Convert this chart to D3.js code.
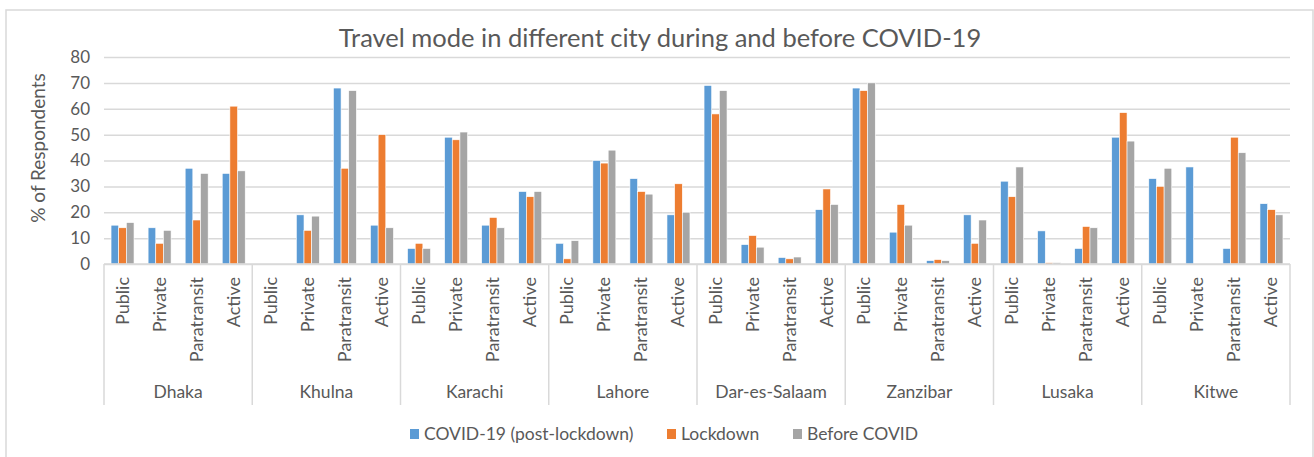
<!DOCTYPE html>
<html>
<head>
<meta charset="utf-8">
<script src="https://cdn.jsdelivr.net/npm/d3@7"></script>
<style>
  body { margin: 0; background: #fff; }
  text { font-family: Lato, "Noto Sans", sans-serif; fill: #595959; }
</style>
</head>
<body>
<div class="chart"></div>
<script>
const cities = ['Dhaka', 'Khulna', 'Karachi', 'Lahore', 'Dar-es-Salaam', 'Zanzibar', 'Lusaka', 'Kitwe'];
const modes = ['Public', 'Private', 'Paratransit', 'Active'];
const series = ['COVID-19 (post-lockdown)', 'Lockdown', 'Before COVID'];
const yTicks = [0, 10, 20, 30, 40, 50, 60, 70, 80];

// values per city, in mode order Public, Private, Paratransit, Active
const covid = [
  [15, 14, 37, 35], [0, 19, 68, 15], [6, 49, 15, 28], [8, 40, 33, 19],
  [69, 7.5, 2.5, 21], [68, 12.3, 1.3, 19], [32, 12.8, 6, 49], [33, 37.5, 6, 23.3]
];
const lockdown = [
  [14, 8, 17, 61], [0, 13, 37, 50], [8, 48, 18, 26], [2, 39, 28, 31],
  [58, 11, 2, 29], [67, 23, 1.7, 8], [26, 0.5, 14.5, 58.5], [30, 0, 49, 21]
];
const before = [
  [16, 13, 35, 36], [0, 18.5, 67, 14], [6, 51, 14, 28], [9, 44, 27, 20],
  [67, 6.5, 2.7, 23], [70, 15, 1.3, 17], [37.5, 0.5, 14, 47.5], [37, 0, 43, 19]
];
const seriesValues = [covid, lockdown, before];
const colors = ['#5B9BD5', '#ED7D31', '#A5A5A5'];

const W = 1314, H = 457;
const plot = {left: 104, right: 1290, top: 57, bottom: 264};

const svg = d3.select('.chart')
  .append('svg')
  .attr('width', W)
  .attr('height', H);

// chart frame
svg.append('rect')
  .attr('x', 6).attr('y', 10)
  .attr('width', 1307).attr('height', 460)
  .attr('fill', 'none')
  .attr('stroke', '#D9D9D9')
  .attr('stroke-width', 1.5);

svg.append('text')
  .attr('x', 660)
  .attr('y', 47)
  .attr('text-anchor', 'middle')
  .attr('font-size', 25.5)
  .text('Travel mode in different city during and before COVID-19');

const yScale = d3.scaleLinear()
  .domain([0, 80])
  .range([plot.bottom, plot.top]);

const cityScale = d3.scaleBand()
  .domain(cities)
  .range([plot.left, plot.right]);

const modeScale = d3.scaleBand()
  .domain(modes)
  .range([0, cityScale.bandwidth()])
  .paddingInner(0.38)
  .paddingOuter(0.19);

const seriesScale = d3.scaleBand()
  .domain(series)
  .range([0, modeScale.bandwidth()]);

// gridlines + y labels
const yAxis = d3.axisLeft(yScale)
  .tickValues(yTicks)
  .tickSize(-(plot.right - plot.left))
  .tickPadding(14);

const gy = svg.append('g')
  .attr('transform', `translate(${plot.left},0)`)
  .call(yAxis);
gy.select('.domain').remove();
gy.selectAll('line').attr('stroke', '#D9D9D9').attr('stroke-width', 1.5);
gy.selectAll('text')
  .attr('font-size', 17)
  .style('font-family', 'Lato, sans-serif')
  .attr('fill', '#595959');

svg.append('text')
  .attr('transform', 'translate(45,148) rotate(-90)')
  .attr('text-anchor', 'middle')
  .attr('font-size', 19)
  .text('% of Respondents');

// bars
const rows = [];
cities.forEach((c, ci) => {
  modes.forEach((m, mi) => {
    series.forEach((s, si) => {
      rows.push({city: c, mode: m, series: s, si: si, value: seriesValues[si][ci][mi]});
    });
  });
});

svg.append('g')
  .selectAll('rect')
  .data(rows.filter(d => d.value > 0))
  .join('rect')
  .attr('x', d => cityScale(d.city) + modeScale(d.mode) + seriesScale(d.series))
  .attr('y', d => yScale(d.value))
  .attr('width', seriesScale.bandwidth())
  .attr('height', d => yScale(0) - yScale(d.value))
  .attr('fill', d => colors[d.si])
  .attr('stroke', '#fff')
  .attr('stroke-width', 0.6);

// category axis
const gx = svg.append('g');
gx.append('line')
  .attr('x1', plot.left).attr('x2', plot.right)
  .attr('y1', plot.bottom).attr('y2', plot.bottom)
  .attr('stroke', '#D9D9D9').attr('stroke-width', 1.5);

gx.selectAll('.sep')
  .data(cities.map(c => cityScale(c)).concat([plot.right]))
  .join('line')
  .attr('class', 'sep')
  .attr('x1', d => d).attr('x2', d => d)
  .attr('y1', plot.bottom).attr('y2', 405)
  .attr('stroke', '#D9D9D9').attr('stroke-width', 1.5);

const modeLabels = [];
cities.forEach(c => modes.forEach(m => modeLabels.push({city: c, mode: m})));

gx.selectAll('.mode')
  .data(modeLabels)
  .join('text')
  .attr('class', 'mode')
  .attr('transform', d => `translate(${cityScale(d.city) + modeScale(d.mode) + modeScale.bandwidth() / 2 + 6},277) rotate(-90)`)
  .attr('text-anchor', 'end')
  .attr('font-size', 18)
  .text(d => d.mode);

gx.selectAll('.city')
  .data(cities)
  .join('text')
  .attr('class', 'city')
  .attr('x', d => cityScale(d) + cityScale.bandwidth() / 2)
  .attr('y', 398)
  .attr('text-anchor', 'middle')
  .attr('font-size', 17.5)
  .text(d => d);

// legend
const legendX = [410, 667, 793];
const legend = svg.append('g')
  .selectAll('g')
  .data(series)
  .join('g')
  .attr('transform', (d, i) => `translate(${legendX[i]},434)`);
legend.append('rect')
  .attr('x', 0).attr('y', -5)
  .attr('width', 9).attr('height', 10)
  .attr('fill', (d, i) => colors[i]);
legend.append('text')
  .attr('x', 14)
  .attr('y', 6)
  .attr('font-size', 17.5)
  .text(d => d);
</script>
</body>
</html>
